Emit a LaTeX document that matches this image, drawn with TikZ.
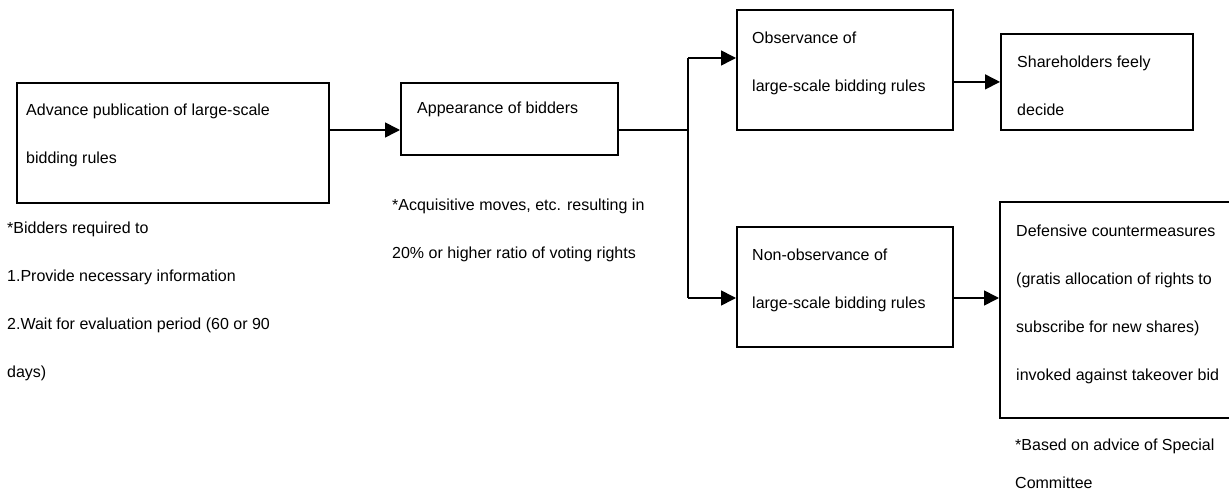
\documentclass[tikz,border=0pt]{standalone}
\usepackage{fontspec}
\setmainfont{Liberation Sans}
\usetikzlibrary{arrows.meta}
\newcommand\myStr{\rule{0pt}{12pt}}
\begin{document}
\begin{tikzpicture}[x=1pt,y=-1pt,
  box/.style={draw, line width=1.8pt, anchor=north west, inner sep=0pt},
  txt/.style={anchor=north west, inner sep=0pt, align=left, font=\fontsize{16}{48}\selectfont},
  conn/.style={line width=1.6pt},
  arr/.style={line width=1.6pt, -{Triangle[length=15pt,width=15pt]}}]
\useasboundingbox (0,0) rectangle (1229,497);
% boxes
\node[box, minimum width=312pt, minimum height=120pt] (b1) at (16,82) {};
\node[box, minimum width=217pt, minimum height=72pt] (b2) at (400,82) {};
\node[box, minimum width=216pt, minimum height=119.5pt] (b3) at (736,9.5) {};
\node[box, minimum width=192pt, minimum height=96pt] (b4) at (1000,33) {};
\node[box, minimum width=216pt, minimum height=120pt] (b5) at (736,226) {};
\node[box, minimum width=240pt, minimum height=216pt] (b6) at (999,201) {};
% box texts
\node[txt] (t1) at (26,103.5) {\myStr Advance publication of large-scale\\bidding rules};
\node[txt] (t2) at (417,101.5) {\myStr Appearance of bidders};
\node[txt] (t3) at (752,31.5) {\myStr Observance of\\large-scale bidding rules};
\node[txt] (t4) at (1017,55.5) {\myStr Shareholders feely\\decide};
\node[txt] (t5) at (752,248.5) {\myStr Non-observance of\\large-scale bidding rules};
\node[txt] (t6) at (1016,224.5) {\myStr Defensive countermeasures\\(gratis allocation of rights to\\subscribe for new shares)\\invoked against takeover bid};
% notes
\node[txt] (n1) at (7,221.5) {\myStr *Bidders required to\\1.Provide necessary information\\2.Wait for evaluation period (60 or 90\\days)};
\node[txt] (n2) at (392,198.5) {\myStr *Acquisitive moves, etc. resulting in\\20\% or higher ratio of voting rights};
\node[txt] (n3) at (1015,438.5) {\myStr *Based on advice of Special\\[-10pt]Committee};
% connectors
\coordinate (j) at (688,130);
\coordinate (jt) at (688,58);
\coordinate (jb) at (688,298);
\draw[arr] (b1.east |- j) -- (b2.west |- j);
\draw[conn] (b2.east |- j) -- (j);
\draw[conn] (jt) -- (jb);
\draw[arr] (jt) -- (b3.west |- jt);
\draw[arr] (jb) -- (b5.west |- jb);
\draw[arr] (b3.east |- b4.west) -- (b4.west);
\draw[arr] (b5.east |- jb) -- (b6.west |- jb);
\end{tikzpicture}
\end{document}
